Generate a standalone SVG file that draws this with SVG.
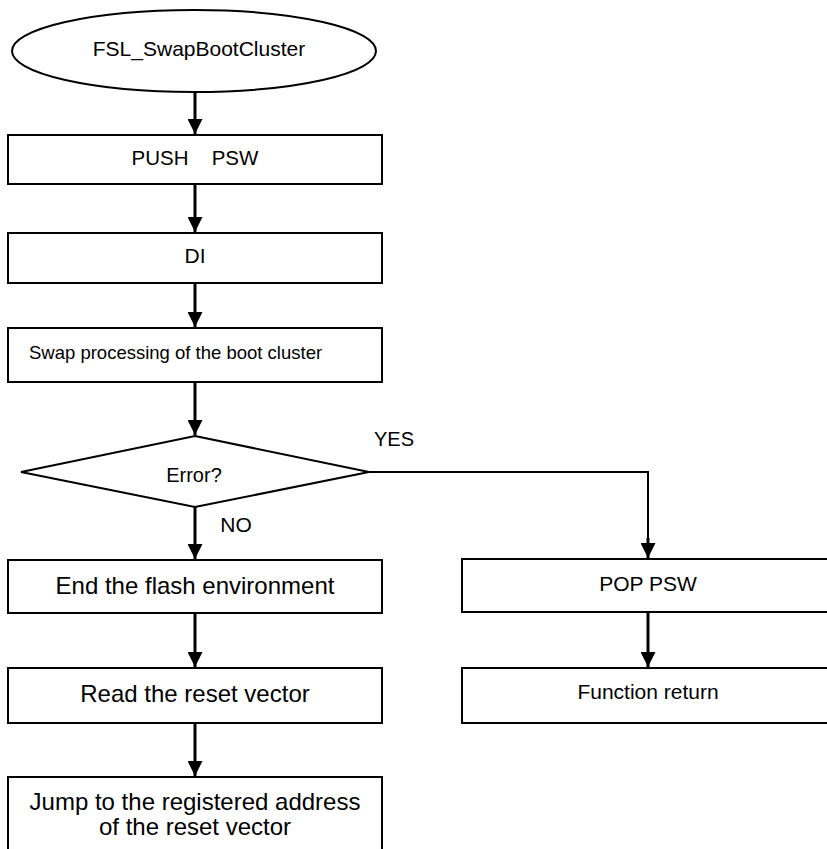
<svg xmlns="http://www.w3.org/2000/svg" width="827" height="849" viewBox="0 0 827 849">
<style>
.box{fill:#fff;stroke:#000;stroke-width:2}
.t{font-family:"Liberation Sans",Arial,sans-serif;fill:#000;text-anchor:middle}
.edge{fill:none;stroke:#000;stroke-width:3}
.thin{fill:none;stroke:#000;stroke-width:2}
</style>
<defs>
<marker id="ah" markerUnits="userSpaceOnUse" markerWidth="16" markerHeight="15" refX="15" refY="7.5" orient="auto">
<path d="M0,0 L15,7.5 L0,15 Z" fill="#000"/>
</marker>
</defs>
<rect width="827" height="849" fill="#fff"/>
<g id="connectors">
<line class="edge" x1="195" y1="92" x2="195" y2="134" marker-end="url(#ah)"/>
<line class="edge" x1="195" y1="184" x2="195" y2="232" marker-end="url(#ah)"/>
<line class="edge" x1="195" y1="283" x2="195" y2="327" marker-end="url(#ah)"/>
<line class="edge" x1="195" y1="382" x2="195" y2="435" marker-end="url(#ah)"/>
<line class="edge" x1="195" y1="507" x2="195" y2="559" marker-end="url(#ah)"/>
<line class="edge" x1="195" y1="613" x2="195" y2="667" marker-end="url(#ah)"/>
<line class="edge" x1="195" y1="723" x2="195" y2="776" marker-end="url(#ah)"/>
<polyline class="thin" points="369,472 648,472 648,540"/>
<line class="edge" x1="648" y1="538" x2="648" y2="558" marker-end="url(#ah)"/>
<line class="edge" x1="648" y1="612" x2="648" y2="667" marker-end="url(#ah)"/>
<text class="t" x="394" y="446" font-size="20">YES</text>
<text class="t" x="236" y="532" font-size="21">NO</text>
</g>
<g id="start">
<ellipse class="box" cx="194" cy="51" rx="182" ry="41"/>
<text class="t" x="199" y="56" font-size="21">FSL_SwapBootCluster</text>
</g>
<g id="push">
<rect class="box" x="8" y="135" width="374" height="49"/>
<text class="t" y="165" font-size="20.5"><tspan x="160">PUSH</tspan><tspan x="235">PSW</tspan></text>
</g>
<g id="di">
<rect class="box" x="8" y="233" width="374" height="50"/>
<text class="t" x="195" y="263" font-size="21">DI</text>
</g>
<g id="swap">
<rect class="box" x="8" y="328" width="374" height="54"/>
<text class="t" x="29" y="359" font-size="18.5" style="text-anchor:start">Swap processing of the boot cluster</text>
</g>
<g id="error">
<polygon class="box" points="195,436 369,472 195,507 21,472"/>
<text class="t" x="194" y="482" font-size="20">Error?</text>
</g>
<g id="endflash">
<rect class="box" x="8" y="560" width="374" height="53"/>
<text class="t" x="195" y="594" font-size="24">End the flash environment</text>
</g>
<g id="readreset">
<rect class="box" x="8" y="668" width="374" height="55"/>
<text class="t" x="195" y="702" font-size="24">Read the reset vector</text>
</g>
<g id="jump">
<rect class="box" x="8" y="777" width="374" height="90"/>
<text class="t" x="195" y="810" font-size="24">Jump to the registered address</text>
<text class="t" x="195" y="835" font-size="24">of the reset vector</text>
</g>
<g id="poppsw">
<rect class="box" x="462" y="559" width="380" height="53"/>
<text class="t" x="648" y="591" font-size="21">POP PSW</text>
</g>
<g id="funcreturn">
<rect class="box" x="462" y="668" width="380" height="55"/>
<text class="t" x="648" y="699" font-size="21">Function return</text>
</g>
</svg>
